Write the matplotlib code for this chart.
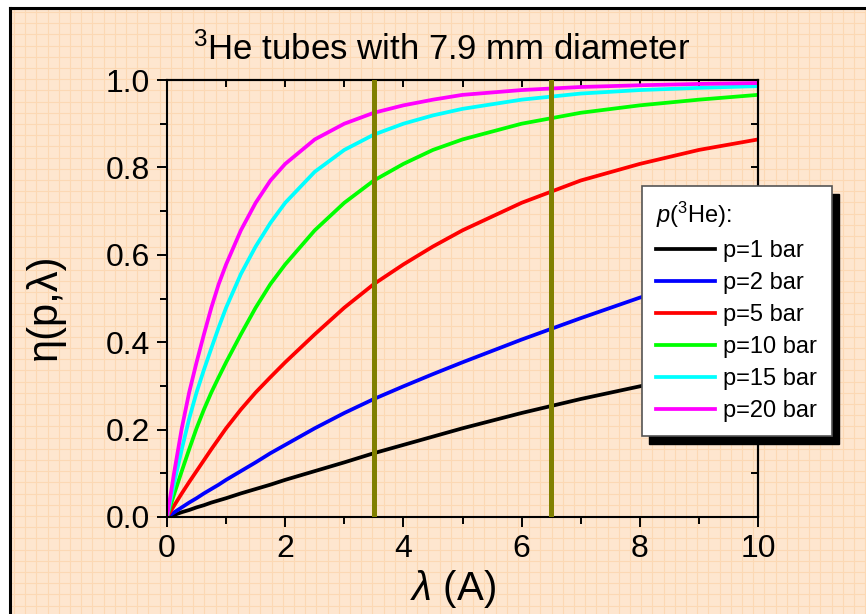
import matplotlib
matplotlib.use('Agg')
import matplotlib.pyplot as plt
from matplotlib.patches import Rectangle
from matplotlib.transforms import IdentityTransform
from matplotlib.ticker import FormatStrFormatter
import numpy as np

# ---------------- data ----------------
lam = [0, .125, .25, .375, .5, .625, .75, .875, 1, 1.25, 1.5, 1.75, 2, 2.5, 3, 3.5, 4, 4.5,
       5, 6, 7, 8, 9, 10]
eta_p1 = [0, .005, .011, .016, .022, .027, .033, .038, .043, .054, .064, .074, .085, .105,
          .125, .146, .165, .184, .203, .238, .270, .299, .327, .354]
eta_p2 = [0, .011, .022, .033, .043, .054, .064, .074, .085, .105, .125, .146, .165, .203,
          .238, .270, .299, .327, .354, .406, .455, .502, .543, .578]
eta_p5 = [0, .027, .054, .080, .105, .130, .155, .179, .203, .246, .285, .320, .354, .418,
          .479, .533, .578, .619, .656, .719, .770, .808, .840, .864]
eta_p10 = [0, .054, .105, .155, .203, .246, .285, .320, .354, .418, .479, .533, .578, .656,
           .719, .770, .808, .840, .864, .900, .925, .942, .955, .966]
eta_p15 = [0, .080, .155, .225, .285, .337, .386, .434, .479, .556, .619, .673, .719, .790,
           .840, .875, .900, .919, .934, .955, .969, .977, .982, .986]
eta_p20 = [0, .105, .203, .285, .354, .418, .479, .533, .578, .656, .719, .770, .808, .864,
           .900, .925, .942, .955, .966, .977, .984, .988, .991, .993]
series = [eta_p1, eta_p2, eta_p5, eta_p10, eta_p15, eta_p20]
labels = ['p=1 bar', 'p=2 bar', 'p=5 bar', 'p=10 bar', 'p=15 bar', 'p=20 bar']
colors = ['#000000', '#0000FF', '#FF0000', '#00FF00', '#00FFFF', '#FF00FF']
marker_lam = [3.5, 6.5]
x_major = [0, 2, 4, 6, 8, 10]
x_minor = [1, 3, 5, 7, 9]
y_major = [0.0, 0.2, 0.4, 0.6, 0.8, 1.0]
y_minor = [0.1, 0.3, 0.5, 0.7, 0.9]

# ---------------- fonts ----------------
plt.rcParams['font.family'] = ['Liberation Sans', 'DejaVu Sans']
plt.rcParams['mathtext.fontset'] = 'custom'
plt.rcParams['mathtext.rm'] = 'Liberation Sans'
plt.rcParams['mathtext.it'] = 'Liberation Sans:italic'
plt.rcParams['mathtext.bf'] = 'Liberation Sans:bold'

W, H = 866, 614
fig = plt.figure(figsize=(W / 100, H / 100), dpi=100, facecolor='white')

# ---------------- background (graph-paper look) ----------------
bg = fig.add_axes([0, 0, 1, 1], zorder=-10)
bg.set_xlim(0, W)
bg.set_ylim(H, 0)
bg.axis('off')
bg.add_patch(Rectangle((10, 8), W - 10, H - 8, facecolor='#FEE6CF', edgecolor='none'))
for gx in np.arange(14, W, 11.2):
    bg.plot([gx, gx], [8, H], color='#FCD8B4', lw=0.8)
for gy in np.arange(12, H, 11.2):
    bg.plot([10, W], [gy, gy], color='#FCD8B4', lw=0.8)
bg.plot([10, 10], [8, H], color='black', lw=2.2, solid_capstyle='projecting')
bg.plot([10, W], [8, 8], color='black', lw=2.2, solid_capstyle='projecting')

# ---------------- main axes ----------------
ax = fig.add_axes([167 / W, 1 - 517 / H, (758 - 167) / W, (517 - 80) / H])
ax.set_facecolor('none')
for y, c, l in zip(series, colors, labels):
    ax.plot(lam, y, color=c, lw=2.7, label=l, zorder=2)
for v in marker_lam:
    ax.axvline(v, color='#808000', lw=3.6, zorder=3)

ax.set_xlim(0, 10)
ax.set_ylim(0, 1)
ax.set_xticks(x_major)
ax.set_xticks(x_minor, minor=True)
ax.set_yticks(y_major)
ax.set_yticks(y_minor, minor=True)
ax.yaxis.set_major_formatter(FormatStrFormatter('%.1f'))
ax.tick_params(which='major', direction='out', length=7, width=1.4, labelsize=23,
               pad=5, top=False, right=False)
ax.tick_params(which='minor', direction='out', length=5, width=1.4, top=False, right=False)
for s in ax.spines.values():
    s.set_linewidth(1.5)

secx = ax.secondary_xaxis('top')
secx.set_xticks(list(range(0, 11)))
secx.set_xticklabels([])
secx.tick_params(direction='in', length=5, width=1.4)
secx.spines['top'].set_linewidth(1.5)
secy = ax.secondary_yaxis('right')
secy.set_yticks([i / 10 for i in range(11)])
secy.set_yticklabels([])
secy.tick_params(direction='in', length=5, width=1.4)
secy.spines['right'].set_linewidth(1.5)

# ---------------- texts ----------------
fig.text(442 / W, 1 - 60 / H, r'$^{3}$He tubes with 7.9 mm diameter', fontsize=25,
         ha='center', va='baseline')
fig.text(45 / W, 1 - 307 / H, 'η(p,λ)', fontsize=30, rotation=90, ha='center', va='center')
fig.text(453 / W, 1 - 589 / H, r'$\lambda$ (A)', fontsize=29, ha='center', va='center')

# ---------------- legend ----------------
leg = ax.legend(loc='upper left', bbox_to_anchor=(642 / W, 1 - 186 / H),
                bbox_transform=fig.transFigure, title=r'$\mathit{p}$($^{3}$He):',
                title_fontsize=17, fontsize=17, frameon=True, fancybox=False,
                edgecolor='#555555', framealpha=1, borderpad=0.6, handlelength=2.5,
                handletextpad=0.35, labelspacing=0.42, borderaxespad=0, alignment='left')
leg.get_frame().set_linewidth(1.2)
for h in leg.get_lines():
    h.set_linewidth(2.7)

# black drop shadow: a figure-level patch drawn between the background and the axes
fig.canvas.draw()
bb = leg.get_window_extent()
shadow = Rectangle((bb.x0 + 7, bb.y0 - 8), bb.width, bb.height, facecolor='black',
                   edgecolor='black', transform=IdentityTransform(), zorder=-5)
fig.add_artist(shadow)

fig.savefig('out.png', dpi=100, facecolor='white')
